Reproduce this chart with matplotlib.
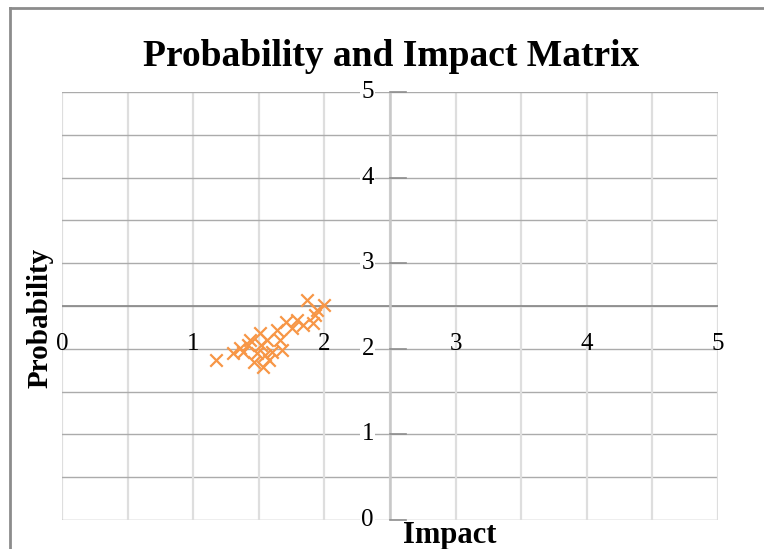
import matplotlib
matplotlib.use("Agg")
import matplotlib.pyplot as plt
from matplotlib.lines import Line2D

# risk scores
impact = [1.17, 1.30, 1.36, 1.38, 1.42, 1.43, 1.46, 1.49, 1.51, 1.52, 1.53, 1.55,
          1.56, 1.58, 1.60, 1.64, 1.66, 1.68, 1.71, 1.75, 1.79, 1.84, 1.87, 1.91,
          1.93, 1.94, 2.00]
probability = [1.87, 1.95, 2.01, 1.96, 2.04, 2.10, 1.85, 1.95, 2.18, 2.04, 1.79, 1.93,
               2.10, 1.87, 1.96, 2.22, 2.10, 1.99, 2.31, 2.24, 2.34, 2.28, 2.57, 2.30,
               2.39, 2.45, 2.51]
tick_values = [0, 1, 2, 3, 4, 5]

plt.rcParams['font.family'] = ['Liberation Serif', 'DejaVu Serif']

fig = plt.figure(figsize=(7.64, 5.49), dpi=100)
ax = fig.add_axes([62 / 764, 1 - 520 / 549, 656 / 764, 428 / 549])
ax.set_xlim(0, 5)
ax.set_ylim(0, 5)
for s in ax.spines.values():
    s.set_visible(False)
ax.set_xticks([])
ax.set_yticks([])

# grid every 0.5
grid = [i * 0.5 for i in range(11)]
for g in grid:
    ax.axvline(g, color='#DEDEDE', lw=1.6, zorder=0)
    ax.axhline(g, color='#ABABAB', lw=1.0, zorder=0)

# axes crossing at 2.5
ax.axhline(2.5, color='#8E8E8E', lw=1.3, zorder=1)
ax.axvline(2.5, color='#C8C8C8', lw=1.8, zorder=1)
for v in tick_values:
    ax.plot([2.5, 2.62], [v, v], color='#8E8E8E', lw=1.2, zorder=1, clip_on=False)

ax.scatter(impact, probability, marker='x', s=80, color='#F79646', linewidths=1.6, zorder=3)

for v in tick_values:
    ax.text(v, 2.06, str(v), ha='center', va='center', fontsize=18, zorder=4)
    ax.text(2.33, v, str(v), ha='center', va='center', fontsize=18, zorder=4,
            bbox=dict(facecolor='white', edgecolor='none', pad=1))

fig.text(0.512, 1 - 56 / 549, 'Probability and Impact Matrix', ha='center', va='center',
         fontsize=27, fontweight='bold')
fig.text(40 / 764, 1 - 318 / 549, 'Probability', ha='center', va='center',
         fontsize=21, fontweight='bold', rotation=90)
fig.text(450 / 764, 1 - 535 / 549, 'Impact', ha='center', va='center',
         fontsize=22, fontweight='bold')

# outer chart frame
fig.add_artist(Line2D([10 / 764, 10 / 764], [0, 1 - 8 / 549], color='#8C8C8C', lw=2))
fig.add_artist(Line2D([10 / 764, 1], [1 - 8 / 549, 1 - 8 / 549], color='#8C8C8C', lw=2))

fig.savefig('out.png', dpi=100)
